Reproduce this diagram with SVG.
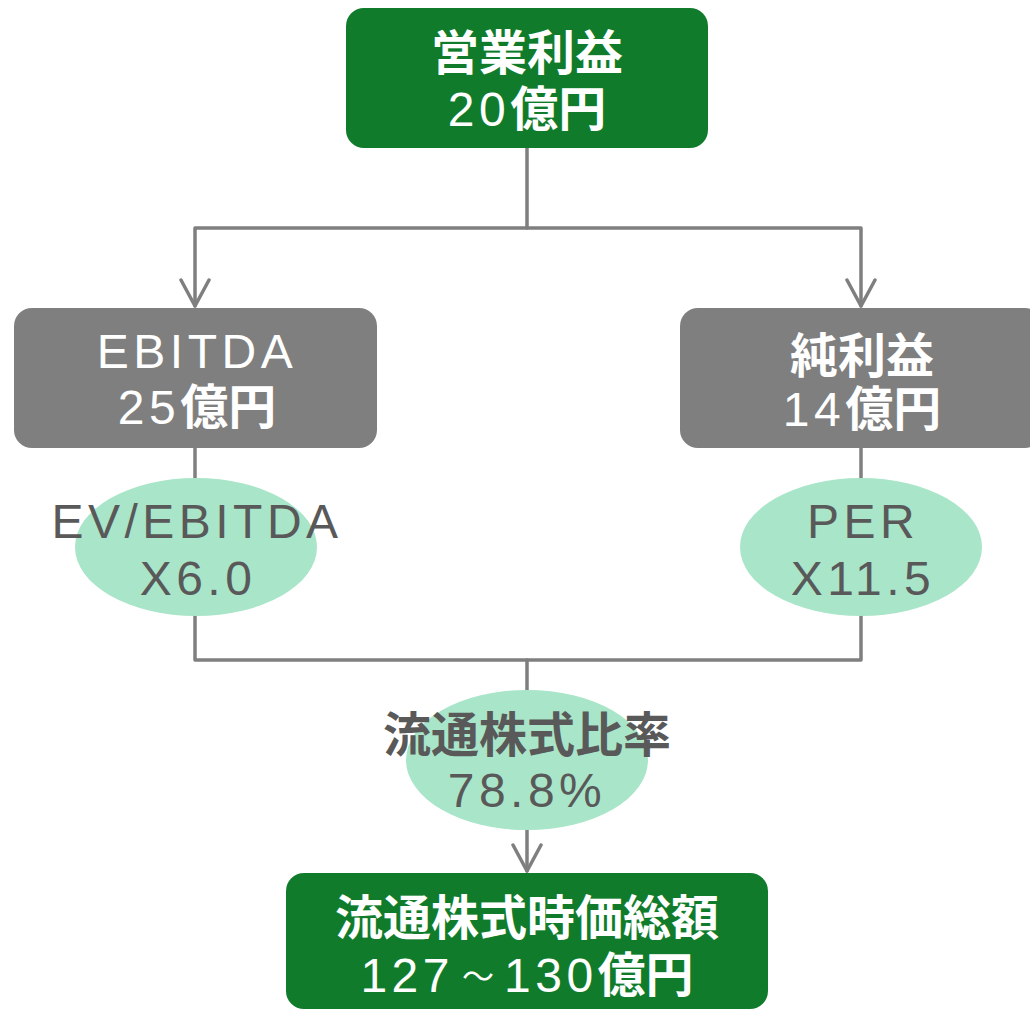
<svg xmlns="http://www.w3.org/2000/svg" width="1030" height="1010" viewBox="0 0 1030 1010">
<style>
.green{fill:#107c2b}
.gray{fill:#7f7f7f}
.ell{fill:#a9e5c9}
.conn{fill:none;stroke:#7f7f7f;stroke-width:3.5;stroke-linejoin:round;stroke-linecap:round}
text{font-size:48px;text-anchor:middle;font-family:"Liberation Sans","Noto Sans CJK JP",sans-serif}
.w{fill:#ffffff}
.d{fill:#595959}
.j{font-family:"Noto Sans CJK JP",sans-serif;font-weight:700;letter-spacing:0}
.l{font-family:"Liberation Sans",sans-serif;letter-spacing:4.5px}
.t{font-family:"Noto Sans CJK JP",sans-serif;font-size:32px;font-weight:400}
</style>
<defs>
<marker id="arr" viewBox="0 0 30 32" refX="28" refY="16" markerWidth="30" markerHeight="32" markerUnits="userSpaceOnUse" orient="auto">
<path d="M2,2 L28,16 L2,30" fill="none" stroke="#7f7f7f" stroke-width="3.5" stroke-linecap="round" stroke-linejoin="round"/>
</marker>
</defs>
<g id="connectors">
<path class="conn" d="M527,148 V228 H195 V306" marker-end="url(#arr)"/>
<path class="conn" d="M527,228 H861 V306" marker-end="url(#arr)"/>
<path class="conn" d="M195,448 V480"/>
<path class="conn" d="M861,448 V480"/>
<path class="conn" d="M195,614 V660 H861 V614"/>
<path class="conn" d="M527,660 V692"/>
<path class="conn" d="M527,828 V871" marker-end="url(#arr)"/>
</g>
<g id="node-operating-profit">
<rect class="green" x="346" y="8" width="362" height="140" rx="18"/>
<text class="w" x="527" y="70"><tspan class="j">営業利益</tspan></text>
<text class="w" x="527" y="126"><tspan class="l">20</tspan><tspan class="j">億円</tspan></text>
</g>
<g id="node-ebitda">
<rect class="gray" x="14" y="308" width="363" height="140" rx="18"/>
<text class="w" x="197" y="368"><tspan class="l">EBITDA</tspan></text>
<text class="w" x="197" y="424"><tspan class="l">25</tspan><tspan class="j">億円</tspan></text>
</g>
<g id="node-net-profit">
<rect class="gray" x="680" y="308" width="363" height="140" rx="18"/>
<text class="w" x="862" y="373"><tspan class="j">純利益</tspan></text>
<text class="w" x="862" y="426"><tspan class="l">14</tspan><tspan class="j">億円</tspan></text>
</g>
<g id="node-ev-ebitda">
<ellipse class="ell" cx="196" cy="547" rx="121" ry="69"/>
<text class="d" x="197" y="538"><tspan class="l">EV/EBITDA</tspan></text>
<text class="d" x="198" y="595"><tspan class="l">X6.0</tspan></text>
</g>
<g id="node-per">
<ellipse class="ell" cx="861" cy="547" rx="121" ry="69"/>
<text class="d" x="863" y="538"><tspan class="l">PER</tspan></text>
<text class="d" x="863" y="595"><tspan class="l">X11.5</tspan></text>
</g>
<g id="node-float-ratio">
<ellipse class="ell" cx="527" cy="760" rx="121" ry="70"/>
<text class="d" x="527" y="752"><tspan class="j">流通株式比率</tspan></text>
<text class="d" x="527" y="807"><tspan class="l">78.8%</tspan></text>
</g>
<g id="node-float-market-cap">
<rect class="green" x="286" y="873" width="482" height="136" rx="18"/>
<text class="w" x="527" y="935"><tspan class="j">流通株式時価総額</tspan></text>
<text class="w" x="527" y="992"><tspan class="l">127</tspan><tspan class="t" dx="8" dy="-4">～</tspan><tspan class="l" dx="10" dy="4">130</tspan><tspan class="j">億円</tspan></text>
</g>
</svg>
